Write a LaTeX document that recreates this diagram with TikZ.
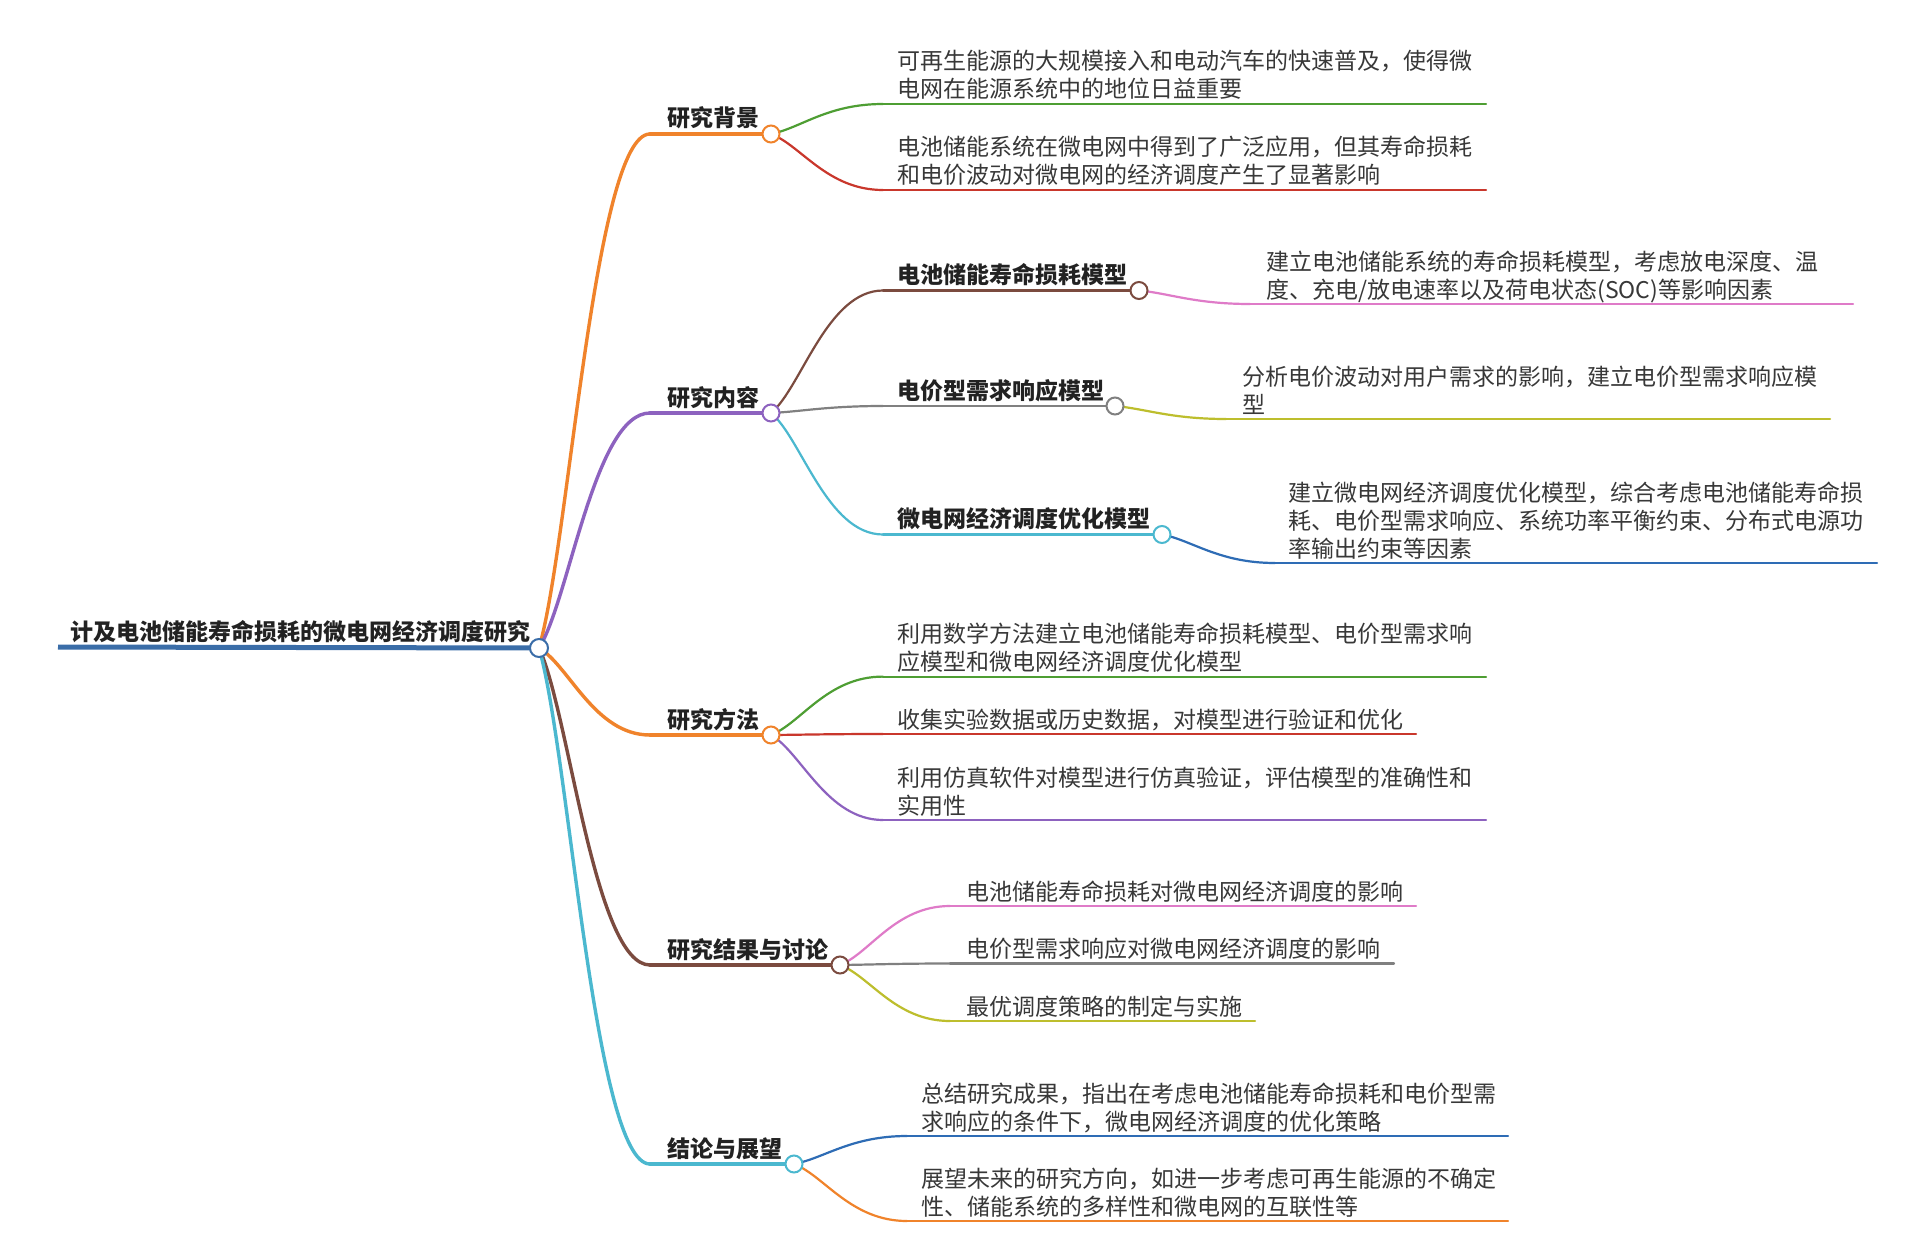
\documentclass[tikz,border=0pt]{standalone}
\usepackage{fontspec}
\setmainfont{Noto Sans CJK SC}
\usetikzlibrary{calc}
\definecolor{cRoot}{HTML}{3A6DA8}
\definecolor{cOrange}{HTML}{F0832B}
\definecolor{cPurple}{HTML}{8D62BF}
\definecolor{cBrown}{HTML}{7B4B3F}
\definecolor{cCyan}{HTML}{4BB8CF}
\definecolor{cGreen}{HTML}{4E9E33}
\definecolor{cRed}{HTML}{C9372C}
\definecolor{cPink}{HTML}{DF7BC8}
\definecolor{cGray}{HTML}{808080}
\definecolor{cOlive}{HTML}{BDBE2D}
\definecolor{cBlue}{HTML}{2E6CB5}
\definecolor{cText}{HTML}{383838}
\definecolor{cLab}{HTML}{222222}
\tikzset{
  lab/.style={anchor=base west, inner sep=0pt, font=\fontsize{23}{28}\selectfont\bfseries, text=cLab},
  txt/.style={anchor=base west, inner sep=0pt, font=\fontsize{23}{28}\selectfont, text=cText},
  dot/.style={circle, draw=#1, fill=white, line width=2pt, minimum size=17pt, inner sep=0pt},
  lone/.style={draw=#1, line width=3.4pt, line cap=round},
  ltwo/.style={draw=#1, line width=2.2pt, line cap=round},
}
\newcommand\tl[1]{\begin{tabular}[b]{@{}l@{}}#1\end{tabular}}
\newcommand\bcurve[3]{%
  \draw[#3] let \p1=(#1), \p2=(#2) in (\p1) .. controls ({\x1+30pt},{\y1+0.2*(\y2-\y1)}) and ({\x2-0.5*(\x2-\x1)},\y2) .. (\p2);}
\begin{document}
\begin{tikzpicture}[x=1pt,y=-1pt]
\useasboundingbox[fill=white] (0,0) rectangle (1922,1260);
% ---------- coordinates ----------
\coordinate (R0) at (58,647);
\coordinate (R) at (539,648);
\coordinate (A) at (771,134);   \coordinate (As) at (650,134);
\coordinate (B) at (771,413);   \coordinate (Bs) at (650,413);
\coordinate (C) at (771,735);   \coordinate (Cs) at (650,735);
\coordinate (D) at (840,965);   \coordinate (Ds) at (650,965);
\coordinate (E) at (794,1164);  \coordinate (Es) at (650,1164);
\coordinate (B1) at (1139,290.5); \coordinate (B1s) at (883,290.5);
\coordinate (B2) at (1115,406);   \coordinate (B2s) at (883,406);
\coordinate (B3) at (1162,534.5); \coordinate (B3s) at (883,534.5);
% leaf line ends
\coordinate (A1s) at (883,104);   \coordinate (A1e) at (1486,104);
\coordinate (A2s) at (883,190);   \coordinate (A2e) at (1486,190);
\coordinate (B1cs) at (1250,304); \coordinate (B1ce) at (1853,304);
\coordinate (B2cs) at (1226,419); \coordinate (B2ce) at (1830,419);
\coordinate (B3cs) at (1275,563); \coordinate (B3ce) at (1877,563);
\coordinate (C1s) at (883,676.6); \coordinate (C1e) at (1486,676.6);
\coordinate (C2s) at (883,734);   \coordinate (C2e) at (1416,734);
\coordinate (C3s) at (883,820);   \coordinate (C3e) at (1486,820);
\coordinate (D1s) at (950,906);   \coordinate (D1e) at (1416,906);
\coordinate (D2s) at (950,963.5); \coordinate (D2e) at (1394,963.5);
\coordinate (D3s) at (950,1021);  \coordinate (D3e) at (1255,1021);
\coordinate (E1s) at (907,1136);  \coordinate (E1e) at (1508,1136);
\coordinate (E2s) at (907,1221);  \coordinate (E2e) at (1508,1221);
% ---------- root line ----------
\draw[cRoot, line width=5pt] (R0) -- (R);
% ---------- level 1 connectors ----------
\bcurve{R}{As}{lone=cOrange} \draw[lone=cOrange] (As) -- (A);
\bcurve{R}{Bs}{lone=cPurple} \draw[lone=cPurple] (Bs) -- (B);
\bcurve{R}{Cs}{lone=cOrange} \draw[lone=cOrange] (Cs) -- (C);
\bcurve{R}{Ds}{lone=cBrown}  \draw[lone=cBrown] (Ds) -- (D);
\bcurve{R}{Es}{lone=cCyan}   \draw[lone=cCyan] (Es) -- (E);
% ---------- level 2 connectors ----------
\bcurve{A}{A1s}{ltwo=cGreen} \draw[ltwo=cGreen] (A1s) -- (A1e);
\bcurve{A}{A2s}{ltwo=cRed}   \draw[ltwo=cRed] (A2s) -- (A2e);
\bcurve{B}{B1s}{ltwo=cBrown} \draw[ltwo=cBrown] (B1s) -- (B1);
\bcurve{B}{B2s}{ltwo=cGray}  \draw[ltwo=cGray] (B2s) -- (B2);
\bcurve{B}{B3s}{ltwo=cCyan}  \draw[ltwo=cCyan] (B3s) -- (B3);
\bcurve{B1}{B1cs}{ltwo=cPink}  \draw[ltwo=cPink] (B1cs) -- (B1ce);
\bcurve{B2}{B2cs}{ltwo=cOlive} \draw[ltwo=cOlive] (B2cs) -- (B2ce);
\bcurve{B3}{B3cs}{ltwo=cBlue}  \draw[ltwo=cBlue] (B3cs) -- (B3ce);
\bcurve{C}{C1s}{ltwo=cGreen}  \draw[ltwo=cGreen] (C1s) -- (C1e);
\bcurve{C}{C2s}{ltwo=cRed}    \draw[ltwo=cRed] (C2s) -- (C2e);
\bcurve{C}{C3s}{ltwo=cPurple} \draw[ltwo=cPurple] (C3s) -- (C3e);
\bcurve{D}{D1s}{ltwo=cPink}   \draw[ltwo=cPink] (D1s) -- (D1e);
\bcurve{D}{D2s}{ltwo=cGray}   \draw[ltwo=cGray] (D2s) -- (D2e);
\bcurve{D}{D3s}{ltwo=cOlive}  \draw[ltwo=cOlive] (D3s) -- (D3e);
\bcurve{E}{E1s}{ltwo=cBlue}   \draw[ltwo=cBlue] (E1s) -- (E1e);
\bcurve{E}{E2s}{ltwo=cOrange} \draw[ltwo=cOrange] (E2s) -- (E2e);
% ---------- circles ----------
\node[dot=cRoot, minimum size=18pt] (Rc) at (R) {};
\node[dot=cOrange] (Ac) at (A) {};
\node[dot=cPurple] (Bc) at (B) {};
\node[dot=cOrange] (Cc) at (C) {};
\node[dot=cBrown] (Dc) at (D) {};
\node[dot=cCyan] (Ec) at (E) {};
\node[dot=cBrown] (B1c) at (B1) {};
\node[dot=cGray] (B2c) at (B2) {};
\node[dot=cCyan] (B3c) at (B3) {};
% ---------- labels ----------
\node[lab] (Rt) at (70,640) {计及电池储能寿命损耗的微电网经济调度研究};
\node[lab] (At) at (667,127) {研究背景};
\node[lab] (Bt) at (667,406) {研究内容};
\node[lab] (Ct) at (667,728) {研究方法};
\node[lab] (Dt) at (667,958) {研究结果与讨论};
\node[lab] (Et) at (667,1157) {结论与展望};
\node[lab] (B1t) at (897,283.5) {电池储能寿命损耗模型};
\node[lab] (B2t) at (897,399) {电价型需求响应模型};
\node[lab] (B3t) at (897,527.5) {微电网经济调度优化模型};
% ---------- leaf texts ----------
\node[txt] (A1t) at (897,98) {\tl{可再生能源的大规模接入和电动汽车的快速普及，使得微\\电网在能源系统中的地位日益重要}};
\node[txt] (A2t) at (897,184) {\tl{电池储能系统在微电网中得到了广泛应用，但其寿命损耗\\和电价波动对微电网的经济调度产生了显著影响}};
\node[txt] (B1ct) at (1266,298) {\tl{建立电池储能系统的寿命损耗模型，考虑放电深度、温\\度、充电/放电速率以及荷电状态(SOC)等影响因素}};
\node[txt] (B2ct) at (1242,413) {\tl{分析电价波动对用户需求的影响，建立电价型需求响应模\\型}};
\node[txt] (B3ct) at (1288,557) {\tl{建立微电网经济调度优化模型，综合考虑电池储能寿命损\\耗、电价型需求响应、系统功率平衡约束、分布式电源功\\率输出约束等因素}};
\node[txt] (C1t) at (897,670.6) {\tl{利用数学方法建立电池储能寿命损耗模型、电价型需求响\\应模型和微电网经济调度优化模型}};
\node[txt] (C2t) at (897,728) {收集实验数据或历史数据，对模型进行验证和优化};
\node[txt] (C3t) at (897,814) {\tl{利用仿真软件对模型进行仿真验证，评估模型的准确性和\\实用性}};
\node[txt] (D1t) at (966,900) {电池储能寿命损耗对微电网经济调度的影响};
\node[txt] (D2t) at (966,957.5) {电价型需求响应对微电网经济调度的影响};
\node[txt] (D3t) at (966,1015) {最优调度策略的制定与实施};
\node[txt] (E1t) at (921,1130) {\tl{总结研究成果，指出在考虑电池储能寿命损耗和电价型需\\求响应的条件下，微电网经济调度的优化策略}};
\node[txt] (E2t) at (921,1215) {\tl{展望未来的研究方向，如进一步考虑可再生能源的不确定\\性、储能系统的多样性和微电网的互联性等}};
\end{tikzpicture}
\end{document}
